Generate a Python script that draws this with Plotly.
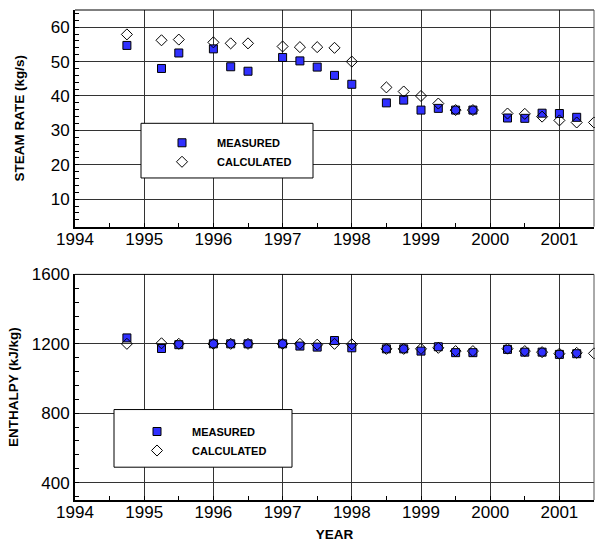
import plotly.graph_objects as go
from plotly.subplots import make_subplots

# ---- data ----
year_measured = [1994.75, 1995.25, 1995.5, 1996.0, 1996.25, 1996.5, 1997.0, 1997.25,
                 1997.5, 1997.75, 1998.0, 1998.5, 1998.75, 1999.0, 1999.25, 1999.5,
                 1999.75, 2000.25, 2000.5, 2000.75, 2001.0, 2001.25]
year_calculated = year_measured + [2001.5]

steam_measured = [54.7, 48.0, 52.5, 53.7, 48.5, 47.2, 51.2, 50.2, 48.4, 46.0, 43.4,
                  38.0, 38.8, 35.9, 36.4, 35.9, 35.9, 33.6, 33.5, 35.0, 34.9, 33.8]
steam_calculated = [57.9, 56.2, 56.4, 55.6, 55.3, 55.3, 54.4, 54.2, 54.2, 54.0, 50.0,
                    42.5, 41.3, 40.0, 37.8, 35.9, 35.9, 34.9, 34.8, 34.0, 32.9, 32.3, 32.3]

enth_measured = [1234, 1173, 1195, 1200, 1200, 1200, 1200, 1187, 1181, 1219, 1177,
                 1171, 1171, 1158, 1183, 1149, 1149, 1168, 1152, 1152, 1139, 1143]
enth_calculated = [1200, 1203, 1200, 1200, 1200, 1200, 1200, 1200, 1195, 1200, 1197,
                   1171, 1171, 1171, 1177, 1158, 1158, 1172, 1158, 1152, 1143, 1148, 1145]

x_ticks = [1994, 1995, 1996, 1997, 1998, 1999, 2000, 2001]
steam_ticks = [10, 20, 30, 40, 50, 60]
enth_ticks = [400, 800, 1200, 1600]

FONT = "Arial, Liberation Sans, sans-serif"
BLUE = "#3030ff"

fig = make_subplots(rows=2, cols=1, shared_xaxes=False, vertical_spacing=0.0)

sq = dict(symbol="square", size=8, color=BLUE, line=dict(color="black", width=1))
dm = dict(symbol="diamond-open", size=8.5, color="black", line=dict(color="black", width=1))

fig.add_trace(go.Scatter(x=year_measured, y=steam_measured, mode="markers", marker=sq,
                         name="<b>MEASURED</b>", legend="legend", cliponaxis=False), row=1, col=1)
fig.add_trace(go.Scatter(x=year_calculated, y=steam_calculated, mode="markers", marker=dm,
                         name="<b>CALCULATED</b>", legend="legend", cliponaxis=False), row=1, col=1)
fig.add_trace(go.Scatter(x=year_measured, y=enth_measured, mode="markers", marker=sq,
                         name="<b>MEASURED</b>", legend="legend2", cliponaxis=False), row=2, col=1)
fig.add_trace(go.Scatter(x=year_calculated, y=enth_calculated, mode="markers", marker=dm,
                         name="<b>CALCULATED</b>", legend="legend2", cliponaxis=False), row=2, col=1)

xax = dict(range=[1994, 2001.5], tickvals=x_ticks, ticktext=[str(v) for v in x_ticks],
           showgrid=True, gridcolor="#333333", gridwidth=1,
           showline=True, linecolor="black", linewidth=2,
           ticks="inside", ticklen=4, tickcolor="black", ticklabelstandoff=-4,
           minor=dict(dtick=0.5, tick0=1994, ticks="inside", ticklen=4, tickcolor="black", showgrid=False),
           tickfont=dict(family=FONT, size=17, color="black"), zeroline=False)

fig.update_layout(
    width=595, height=544,
    margin=dict(l=75, r=1, t=7, b=44),
    paper_bgcolor="white", plot_bgcolor="white",
    font=dict(family=FONT, color="black"),
    xaxis=dict(xax, domain=[0, 1]),
    xaxis2=dict(xax, domain=[0, 1],
                title=dict(text="<b>YEAR</b>", font=dict(family=FONT, size=13.5), standoff=8)),
    yaxis=dict(domain=[0.5578, 1], range=[2, 65], tickvals=steam_ticks,
               showgrid=True, gridcolor="#333333", gridwidth=1,
               showline=True, linecolor="black", linewidth=2,
               ticks="inside", ticklen=4, tickcolor="black",
               minor=dict(dtick=2, tick0=0, ticks="inside", ticklen=4, tickcolor="black", showgrid=False),
               tickfont=dict(family=FONT, size=17, color="black"), zeroline=False,
               title=dict(text="<b>STEAM RATE (kg/s)</b>", font=dict(family=FONT, size=13.5), standoff=23)),
    yaxis2=dict(domain=[0, 0.4604], range=[300, 1600], tickvals=enth_ticks,
                showgrid=True, gridcolor="#333333", gridwidth=1,
                showline=True, linecolor="black", linewidth=2,
                ticks="inside", ticklen=4, tickcolor="black",
                minor=dict(dtick=80, tick0=0, ticks="inside", ticklen=4, tickcolor="black", showgrid=False),
                tickfont=dict(family=FONT, size=17, color="black"), zeroline=False,
                title=dict(text="<b>ENTHALPY (kJ/kg)</b>", font=dict(family=FONT, size=13.5), standoff=10)),
    legend=dict(x=(147 - 75) / 519, y=(500 - 126) / 493, xanchor="left", yanchor="top",
                bgcolor="rgba(0,0,0,0)", borderwidth=0, itemwidth=60,
                font=dict(family=FONT, size=11, color="black"), tracegroupgap=0),
    legend2=dict(x=(122 - 75) / 519, y=(500 - 416.5) / 493, xanchor="left", yanchor="top",
                 bgcolor="rgba(0,0,0,0)", borderwidth=0, itemwidth=60,
                 font=dict(family=FONT, size=11, color="black"), tracegroupgap=0),
    showlegend=True,
)

def px2paper_x(px):
    return (px - 75) / 519

def px2paper_y(py):
    return (500 - py) / 493

shapes = [
    dict(type="rect", xref="paper", yref="paper",
         x0=px2paper_x(141), x1=px2paper_x(313), y0=px2paper_y(176), y1=px2paper_y(121),
         line=dict(color="black", width=1), fillcolor="white", layer="above"),
    dict(type="rect", xref="paper", yref="paper",
         x0=px2paper_x(114), x1=px2paper_x(292), y0=px2paper_y(467), y1=px2paper_y(409),
         line=dict(color="black", width=1), fillcolor="white", layer="above"),
    dict(type="line", xref="x domain", yref="y domain", x0=0, x1=1, y0=1, y1=1,
         line=dict(color="black", width=1)),
    dict(type="line", xref="x domain", yref="y domain", x0=1, x1=1, y0=0, y1=1,
         line=dict(color="#555555", width=1)),
    dict(type="line", xref="x2 domain", yref="y2 domain", x0=0, x1=1, y0=1, y1=1,
         line=dict(color="black", width=1)),
    dict(type="line", xref="x2 domain", yref="y2 domain", x0=1, x1=1, y0=0, y1=1,
         line=dict(color="#555555", width=1)),
]
fig.update_layout(shapes=shapes)

fig.write_html("out.html")
